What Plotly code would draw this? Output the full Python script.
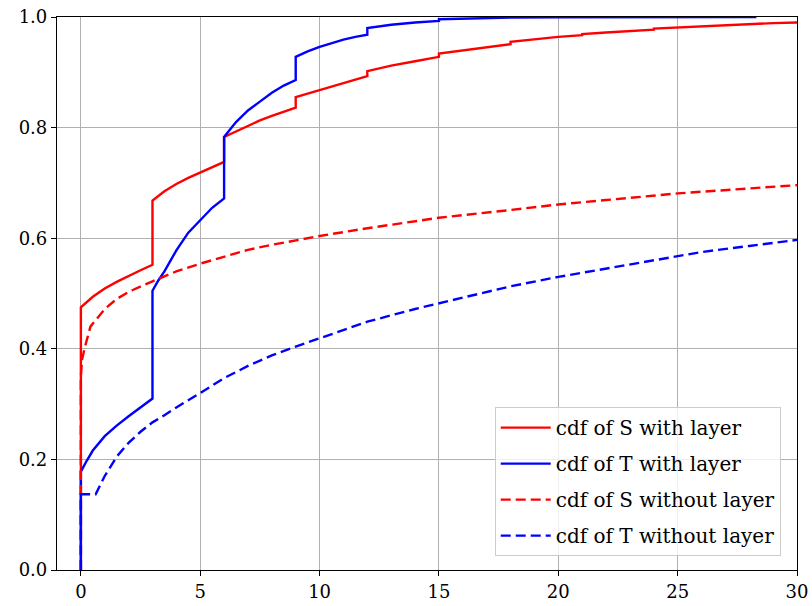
import plotly.graph_objects as go

# CDF of S with layer (jumps at multiples of 3)
s_layer_x = [0, 0, 0.5, 1, 1.5, 2, 2.5, 3,
             3, 3.5, 4, 4.5, 5, 5.5, 6,
             6, 6.5, 7, 7.5, 8, 8.5, 9,
             9, 10, 11, 12,
             12, 13, 14, 15,
             15, 16, 17, 18,
             18, 19, 20, 21,
             21, 22, 23, 24,
             24, 25, 26, 27, 28, 29, 30]
s_layer_y = [0, 0.475, 0.494, 0.509, 0.521, 0.532, 0.542, 0.552,
             0.668, 0.685, 0.698, 0.709, 0.719, 0.728, 0.738,
             0.783, 0.793, 0.804, 0.813, 0.821, 0.829, 0.836,
             0.855, 0.868, 0.881, 0.893,
             0.902, 0.912, 0.920, 0.928,
             0.934, 0.940, 0.946, 0.951,
             0.955, 0.960, 0.964, 0.967,
             0.969, 0.972, 0.975, 0.977,
             0.979, 0.981, 0.984, 0.986, 0.987, 0.989, 0.990]

# CDF of T with layer
t_layer_x = [0, 0, 0.25, 0.5, 1, 1.5, 2, 2.5, 3,
             3, 3.25, 3.5, 4, 4.5, 5, 5.5, 6,
             6, 6.5, 7, 7.5, 8, 8.5, 9,
             9, 9.5, 10, 10.5, 11, 11.5, 12,
             12, 13, 14, 15,
             15, 16, 17, 18, 20, 24, 28.3]
t_layer_y = [0, 0.178, 0.198, 0.216, 0.242, 0.261, 0.278, 0.294, 0.310,
             0.505, 0.524, 0.540, 0.578, 0.610, 0.633, 0.655, 0.672,
             0.783, 0.810, 0.831, 0.847, 0.863, 0.876, 0.886,
             0.928, 0.938, 0.946, 0.953, 0.959, 0.964, 0.968,
             0.980, 0.986, 0.990, 0.993,
             0.996, 0.997, 0.998, 0.999, 0.9995, 1.0, 1.0]

# CDF of S without layer
s_plain_x = [0, 0, 0.05, 0.15, 0.4, 1, 1.5, 2, 3, 4, 5, 6, 7, 8, 10,
             12, 15, 18, 20, 22, 25, 28, 30]
s_plain_y = [0, 0.35, 0.38, 0.40, 0.44, 0.472, 0.490, 0.503, 0.522, 0.540,
             0.554, 0.567, 0.579, 0.588, 0.604, 0.618, 0.637, 0.651, 0.661,
             0.669, 0.681, 0.690, 0.696]

# CDF of T without layer
t_plain_x = [0, 0, 0.62, 1, 1.5, 2, 2.5, 3, 3.5, 4, 5, 6, 7, 8, 9, 10, 11,
             12, 14, 15, 16, 17, 18, 20, 22, 24, 26, 28, 30]
t_plain_y = [0, 0.137, 0.137, 0.17, 0.205, 0.23, 0.25, 0.267, 0.28, 0.294,
             0.32, 0.347, 0.369, 0.388, 0.404, 0.419, 0.433, 0.449, 0.472,
             0.482, 0.493, 0.503, 0.513, 0.530, 0.545, 0.561, 0.575, 0.586,
             0.597]

series = [
    ("cdf of S with layer", s_layer_x, s_layer_y, "#ff0000", "solid"),
    ("cdf of T with layer", t_layer_x, t_layer_y, "#0000ff", "solid"),
    ("cdf of S without layer", s_plain_x, s_plain_y, "#ff0000", "10px,5px"),
    ("cdf of T without layer", t_plain_x, t_plain_y, "#0000ff", "10px,5px"),
]

x_ticks = [0, 5, 10, 15, 20, 25, 30]
y_ticks = [0.0, 0.2, 0.4, 0.6, 0.8, 1.0]

FONT = "DejaVu Serif"

fig = go.Figure()
for i, (name, xs, ys, color, dash) in enumerate(series):
    fig.add_trace(go.Scatter(
        x=xs, y=ys, mode="lines", name=name, legendgroup=f"g{i}",
        line=dict(color=color, width=2.4, dash=dash, shape="linear"),
    ))

axis_common = dict(
    showgrid=True, gridcolor="#b0b0b0", gridwidth=1,
    showline=True, linecolor="black", linewidth=1.2, mirror=True,
    ticks="outside", ticklen=5, tickcolor="black", tickwidth=1.2,
    zeroline=False, automargin=False,
    tickfont=dict(family=FONT, size=18, color="black"),
)

fig.update_xaxes(range=[-1, 30], tickvals=x_ticks, **axis_common)
fig.update_yaxes(range=[0, 1], tickvals=y_ticks, tickformat=".1f", **axis_common)

fig.update_layout(
    width=812, height=606,
    margin=dict(l=57, r=15, t=17, b=36),
    paper_bgcolor="white", plot_bgcolor="white",
    font=dict(family=FONT, size=18, color="black"),
    legend=dict(
        x=0.978, y=0.025, xanchor="right", yanchor="bottom",
        bgcolor="rgba(255,255,255,0.8)", bordercolor="#cccccc", borderwidth=1,
        font=dict(family=FONT, size=20, color="black"),
        tracegroupgap=7, itemwidth=50,
    ),
)

fig.write_html("out.html")
